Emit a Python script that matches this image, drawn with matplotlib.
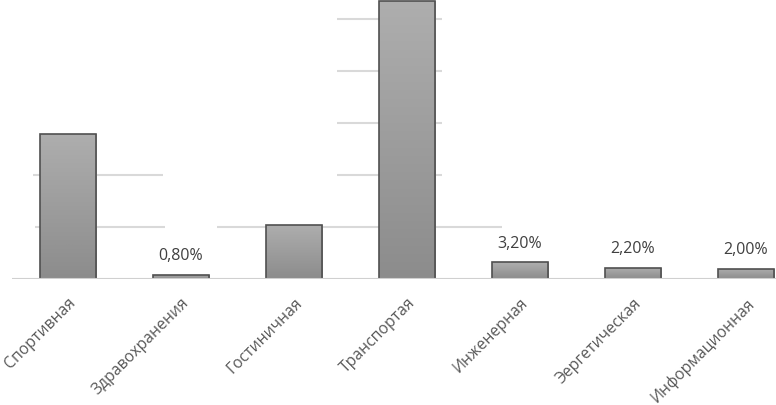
import matplotlib.pyplot as plt
import numpy as np

plt.rcParams['font.family'] = ['Open Sans', 'DejaVu Sans']

categories = ["Спортивная", "Здравохранения", "Гостиничная", "Транспортая",
              "Инженерная", "Эергетическая", "Информационная"]
shares = [27.9, 0.8, 10.4, 53.5, 3.2, 2.2, 2.0]
# labels that remain visible in the picture
shown_labels = {1: "0,80%", 4: "3,20%", 5: "2,20%", 6: "2,00%"}

# gridline pieces that are not hidden behind label boxes (level, x from, x to)
grid_pieces = [(10, -0.29, 0.86), (10, 1.32, 3.84),
               (20, -0.31, 0.84), (20, 2.38, 3.31),
               (30, 2.38, 3.31), (40, 2.38, 3.31), (50, 2.38, 3.31)]

fig = plt.figure(figsize=(7.76, 4.06), dpi=100)
ax = fig.add_axes([11.5 / 776, 1 - 280 / 406, 1 - 11.5 / 776, 280 / 406])
ax.set_xlim(-0.5, 6.265)
ax.set_ylim(0, 280 / 5.2)

for lvl, x0, x1 in grid_pieces:
    ax.hlines(lvl, x0, x1, color='#d9d9d9', lw=1.5, zorder=1)
ax.axhline(0, color='#d0d0d0', lw=1.5, zorder=4)

x = np.arange(len(categories))
bars = ax.bar(x, shares, width=0.5, color='none', edgecolor='#505050',
              linewidth=1.2, zorder=3)

cmap = plt.matplotlib.colors.LinearSegmentedColormap.from_list('g', ['#8c8c8c', '#aeaeae'])
grad = np.linspace(0, 1, 256).reshape(-1, 1)
for b in bars:
    im = ax.imshow(grad, cmap=cmap, origin='lower', aspect='auto',
                   extent=[b.get_x(), b.get_x() + b.get_width(), 0, b.get_height()], zorder=2)
    im.set_clip_path(b)

for i, txt in shown_labels.items():
    ax.annotate(txt, (i, shares[i]), xytext=(0, 14), textcoords='offset points',
                ha='center', va='center', fontsize=11.5, color='#404040')

ax.set_xticks(x)
ax.set_xticklabels(categories, rotation=45, ha='right', rotation_mode='anchor',
                   fontsize=11.3, color='#595959')
ax.tick_params(axis='x', length=0, pad=11)
ax.set_yticks([])
for s in ax.spines.values():
    s.set_visible(False)

fig.savefig('out.png', dpi=100)
